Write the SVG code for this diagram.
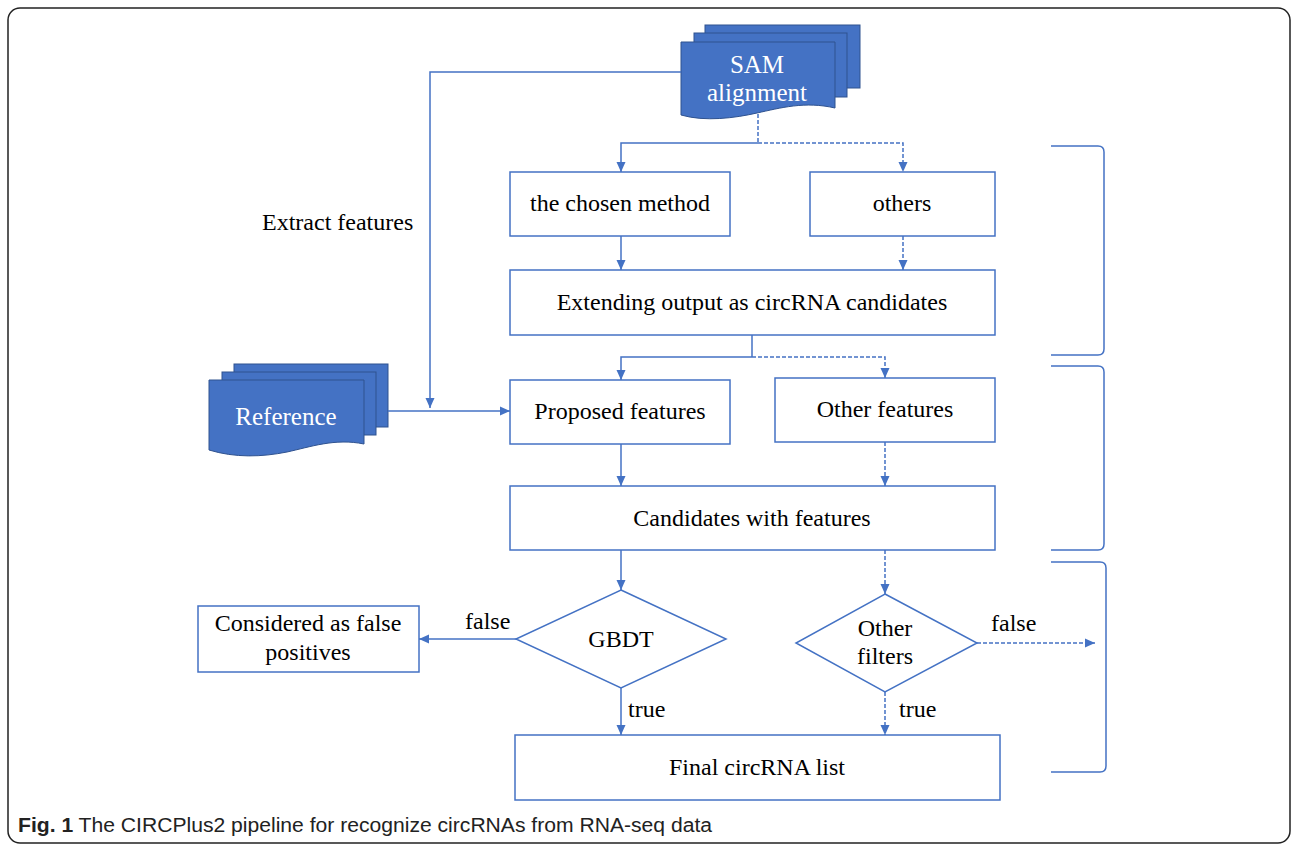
<svg xmlns="http://www.w3.org/2000/svg" width="1295" height="848" viewBox="0 0 1295 848">
<style>
.box{fill:#fff;stroke:#4472C4;stroke-width:1.5}
.doc{fill:#4472C4;stroke:#2F528F;stroke-width:1}
.t{font-family:"Liberation Serif","Times New Roman",serif;font-size:24px;fill:#000;text-anchor:middle}
.tw{font-family:"Liberation Serif","Times New Roman",serif;font-size:25px;fill:#fff;text-anchor:middle}
.lbl{font-family:"Liberation Serif","Times New Roman",serif;font-size:24px;fill:#000}
.c{fill:none;stroke:#4472C4;stroke-width:1.5}
.ca{fill:none;stroke:#4472C4;stroke-width:1.5;marker-end:url(#ah)}
.d{fill:none;stroke:#4472C4;stroke-width:1.5;stroke-dasharray:4 2}
.da{fill:none;stroke:#4472C4;stroke-width:1.5;stroke-dasharray:4 2;marker-end:url(#ah)}
.br{fill:none;stroke:#4472C4;stroke-width:1.5}
</style>
<defs>
<marker id="ah" markerUnits="userSpaceOnUse" markerWidth="10" markerHeight="10" viewBox="0 0 10 10" refX="10" refY="5" orient="auto">
<path d="M0,0.5 L10,5 L0,9.5 Z" fill="#4472C4"/>
</marker>
</defs>
<rect x="8" y="8" width="1282" height="835" rx="12" ry="12" fill="#fff" stroke="#222" stroke-width="1.5"/>

<g id="sam">
<rect class="doc" x="705" y="25" width="155" height="63"/>
<rect class="doc" x="694" y="33" width="153" height="64"/>
<path class="doc" d="M681,42 H835 V108 C805,101 780,108 757,113 C735,118 705,122 681,115 Z"/>
<text class="tw" x="757" y="73">SAM</text>
<text class="tw" x="757" y="101">alignment</text>
</g>

<g id="reference">
<rect class="doc" x="234" y="364" width="154" height="63"/>
<rect class="doc" x="222" y="372" width="154" height="63"/>
<path class="doc" d="M209,380 H364 V444 C335,438 310,447 287,452 C262,457 235,458 209,450 Z"/>
<text class="tw" x="286" y="425">Reference</text>
</g>

<g id="chosen"><rect class="box" x="510" y="172" width="220" height="64"/><text class="t" x="620" y="211">the chosen method</text></g>
<g id="others"><rect class="box" x="810" y="172" width="185" height="64"/><text class="t" x="902" y="211">others</text></g>
<g id="extending"><rect class="box" x="510" y="270" width="485" height="65"/><text class="t" x="752" y="310">Extending output as circRNA candidates</text></g>
<g id="proposed"><rect class="box" x="510" y="380" width="220" height="64"/><text class="t" x="620" y="419">Proposed features</text></g>
<g id="otherfeat"><rect class="box" x="775" y="378" width="220" height="64"/><text class="t" x="885" y="417">Other features</text></g>
<g id="candidates"><rect class="box" x="510" y="486" width="485" height="64"/><text class="t" x="752" y="526">Candidates with features</text></g>
<g id="falsepos"><rect class="box" x="198" y="606" width="221" height="66"/><text class="t" x="308" y="631">Considered as false</text><text class="t" x="308" y="660">positives</text></g>
<g id="gbdt"><path class="box" d="M621,590 L726,639 L621,688 L516,639 Z"/><text class="t" x="621" y="647">GBDT</text></g>
<g id="otherfilters"><path class="box" d="M885,594 L977,643 L885,692 L796,643 Z"/><text class="t" x="885" y="636">Other</text><text class="t" x="885" y="664">filters</text></g>
<g id="final"><rect class="box" x="515" y="735" width="485" height="65"/><text class="t" x="757" y="775">Final circRNA list</text></g>

<g id="connectors">
<polyline class="ca" points="681,72 430,72 430,408"/>
<line class="ca" x1="388" y1="411" x2="510" y2="411"/>
<polyline class="d" points="758,114 758,143"/>
<polyline class="ca" points="758,143 621,143 621,172"/>
<polyline class="da" points="758,143 903,143 903,172"/>
<line class="ca" x1="621" y1="236" x2="621" y2="270"/>
<line class="da" x1="903" y1="236" x2="903" y2="270"/>
<polyline class="c" points="752,335 752,357"/>
<polyline class="ca" points="752,357 621,357 621,380"/>
<polyline class="da" points="752,357 885,357 885,378"/>
<line class="ca" x1="621" y1="444" x2="621" y2="486"/>
<line class="da" x1="885" y1="442" x2="885" y2="486"/>
<line class="ca" x1="621" y1="550" x2="621" y2="590"/>
<line class="da" x1="885" y1="550" x2="885" y2="594"/>
<line class="ca" x1="516" y1="639" x2="419" y2="639"/>
<line class="ca" x1="621" y1="688" x2="621" y2="735"/>
<line class="da" x1="885" y1="692" x2="885" y2="735"/>
<line class="da" x1="977" y1="643" x2="1095" y2="643"/>
</g>

<g id="labels">
<text class="lbl" x="262" y="230">Extract features</text>
<text class="lbl" x="465" y="629">false</text>
<text class="lbl" x="628" y="717">true</text>
<text class="lbl" x="899" y="717">true</text>
<text class="lbl" x="991" y="631">false</text>
</g>

<g id="brackets">
<path class="br" d="M1051,146 H1098 Q1104,146 1104,152 V349 Q1104,355 1098,355 H1051"/>
<path class="br" d="M1051,366 H1098 Q1104,366 1104,372 V544 Q1104,550 1098,550 H1051"/>
<path class="br" d="M1051,562 H1100 Q1106,562 1106,568 V766 Q1106,772 1100,772 H1051"/>
</g>

<text x="18" y="832" textLength="694" lengthAdjust="spacingAndGlyphs" font-family="'Liberation Sans',Arial,sans-serif" font-size="20" fill="#222"><tspan font-weight="bold">Fig. 1</tspan> The CIRCPlus2 pipeline for recognize circRNAs from RNA-seq data</text>
</svg>
